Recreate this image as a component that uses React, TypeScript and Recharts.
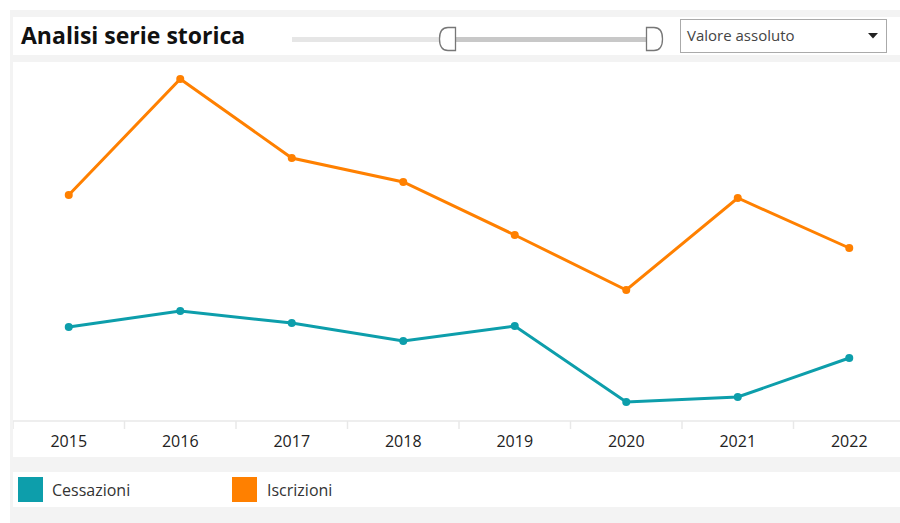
import React from 'react';
import { LineChart, Line, XAxis, YAxis } from 'recharts';

const years = ['2015', '2016', '2017', '2018', '2019', '2020', '2021', '2022'];
const cessazioni = [940, 1100, 980, 800, 950, 190, 240, 630];
const iscrizioni = [2260, 3420, 2630, 2390, 1860, 1310, 2230, 1730];

const TEAL = '#0d9eab';
const ORANGE = '#ff8000';
const CHART_W = 892;
const CHART_H = 395;
const BAND = CHART_W / years.length;
const FONT = '"Open Sans", "Noto Sans", sans-serif';

const data = years.map((y, i) => ({ year: y, cessazioni: cessazioni[i], iscrizioni: iscrizioni[i] }));

const YearTick = (props: any) => {
  const { x, y, payload } = props;
  const half = BAND / 2;
  return (
    <g>
      <line x1={x - half} x2={x - half} y1={y - 8} y2={y} stroke="#e8e8e8" strokeWidth={1.5} />
      <text x={x} y={y + 18} textAnchor="middle" fontSize={16} fill="#222" fontFamily={FONT}>
        {payload.value}
      </text>
    </g>
  );
};

const Slider = () => (
  <svg width={900} height={60} style={{ position: 'absolute', left: 0, top: 0 }}>
    <rect x={292} y={37} width={150} height={5} fill="#e6e6e6" />
    <rect x={455} y={37} width={192} height={5} fill="#c8c8c8" />
    <path d="M 455.5 27.5 L 448 27.5 Q 439.5 27.5 439.5 39 Q 439.5 50.5 448 50.5 L 455.5 50.5 Z" fill="#fff" stroke="#777" strokeWidth={1.3} />
    <path d="M 646.5 27.5 L 654 27.5 Q 662.5 27.5 662.5 39 Q 662.5 50.5 654 50.5 L 646.5 50.5 Z" fill="#fff" stroke="#777" strokeWidth={1.3} />
  </svg>
);

export default function App() {
  return (
    <div style={{ position: 'fixed', left: 0, top: 0, width: 900, height: 523, overflow: 'hidden', background: '#fff', fontFamily: FONT }}>
      <div style={{ position: 'absolute', left: 10, top: 10, width: 900, height: 520, background: '#f3f3f3' }} />
      <div style={{ position: 'absolute', left: 13, top: 17, width: 890, height: 38, background: '#fff' }} />
      <div style={{ position: 'absolute', left: 21, top: 16, height: 38, lineHeight: '38px', fontSize: 23, fontWeight: 700, color: '#111' }}>
        Analisi serie storica
      </div>
      <Slider />
      <div style={{ position: 'absolute', left: 680, top: 19, width: 205, height: 32, border: '1px solid #aaa', background: '#fff' }}>
        <span style={{ position: 'absolute', left: 6, top: 0, lineHeight: '31px', fontSize: 15, color: '#444' }}>Valore assoluto</span>
        <svg width={12} height={8} style={{ position: 'absolute', left: 187, top: 13 }}>
          <polygon points="0,0 10,0 5,5.5" fill="#222" />
        </svg>
      </div>
      <div style={{ position: 'absolute', left: 13, top: 62, width: 890, height: CHART_H, background: '#fff' }} />
      <div style={{ position: 'absolute', left: 13, top: 62 }}>
        <LineChart width={CHART_W} height={CHART_H} data={data} margin={{ top: 8, right: 0, bottom: 0, left: 0 }}>
          <XAxis
            dataKey="year"
            interval={0}
            height={36}
            padding={{ left: BAND / 2, right: BAND / 2 }}
            tickSize={8}
            tickMargin={0}
            tickLine={false}
            axisLine={{ stroke: '#eeeeee', strokeWidth: 2 }}
            tick={<YearTick />}
          />
          <YAxis hide domain={[0, 3510]} />
          <Line
            dataKey="cessazioni"
            type="linear"
            stroke={TEAL}
            strokeWidth={3}
            dot={{ r: 4, fill: TEAL, stroke: TEAL, strokeWidth: 0 }}
            activeDot={false}
            isAnimationActive={false}
          />
          <Line
            dataKey="iscrizioni"
            type="linear"
            stroke={ORANGE}
            strokeWidth={3}
            dot={{ r: 4, fill: ORANGE, stroke: ORANGE, strokeWidth: 0 }}
            activeDot={false}
            isAnimationActive={false}
          />
        </LineChart>
      </div>
      <div style={{ position: 'absolute', left: 13, top: 472, width: 890, height: 35, background: '#fff' }}>
        <div style={{ position: 'absolute', left: 5, top: 5, width: 25, height: 25, background: TEAL }} />
        <span style={{ position: 'absolute', left: 39, top: 0, lineHeight: '37px', fontSize: 16, color: '#333' }}>Cessazioni</span>
        <div style={{ position: 'absolute', left: 219, top: 5, width: 25, height: 25, background: ORANGE }} />
        <span style={{ position: 'absolute', left: 254, top: 0, lineHeight: '37px', fontSize: 16, color: '#333' }}>Iscrizioni</span>
      </div>
    </div>
  );
}
